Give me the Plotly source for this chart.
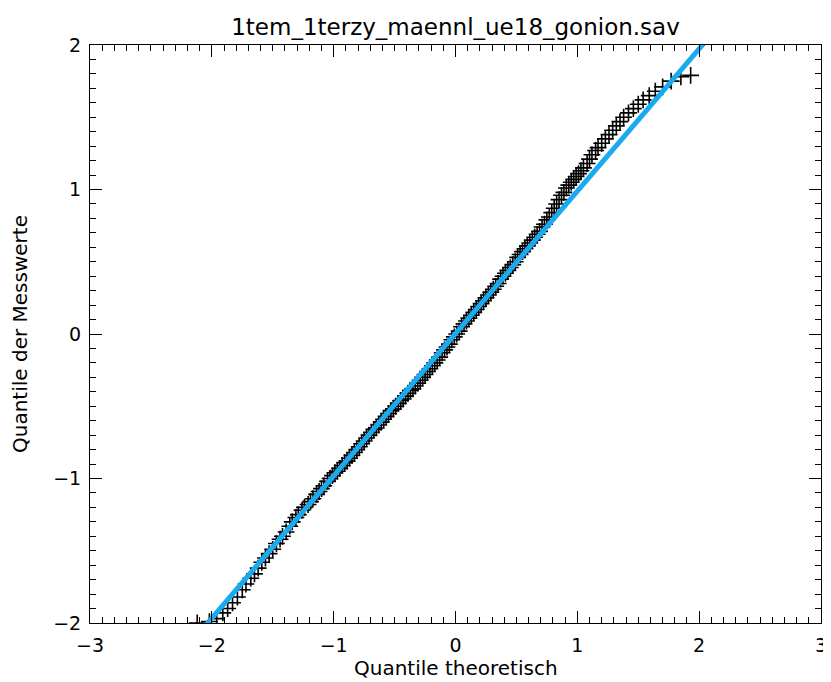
import plotly.graph_objects as go

title_text = "1tem_1terzy_maennl_ue18_gonion.sav"
x_label = "Quantile theoretisch"
y_label = "Quantile der Messwerte"

theo = [-2.12, -2.02, -1.96, -1.91, -1.87, -1.83, -1.79, -1.75, -1.72, -1.68,
        -1.65, -1.62, -1.59, -1.56, -1.53, -1.50, -1.47, -1.44, -1.42, -1.39,
        -1.36, -1.34, -1.31, -1.29, -1.26, -1.24, -1.21, -1.19, -1.17, -1.14,
        -1.12, -1.10, -1.08, -1.05, -1.03, -1.01, -0.99, -0.97, -0.95, -0.93,
        -0.91, -0.89, -0.87, -0.85, -0.83, -0.81, -0.79, -0.77, -0.75, -0.73,
        -0.71, -0.69, -0.67, -0.65, -0.63, -0.61, -0.59, -0.57, -0.55, -0.53,
        -0.51, -0.49, -0.47, -0.45, -0.43, -0.41, -0.39, -0.37, -0.35, -0.33,
        -0.31, -0.29, -0.27, -0.25, -0.23, -0.21, -0.19, -0.17, -0.15, -0.13,
        -0.11, -0.09, -0.07, -0.05, -0.03, -0.01, 0.01, 0.03, 0.05, 0.07,
        0.09, 0.11, 0.13, 0.15, 0.17, 0.19, 0.21, 0.23, 0.25, 0.27,
        0.29, 0.31, 0.33, 0.35, 0.37, 0.39, 0.41, 0.43, 0.45, 0.47,
        0.49, 0.51, 0.53, 0.55, 0.57, 0.59, 0.61, 0.63, 0.65, 0.67,
        0.69, 0.71, 0.73, 0.75, 0.77, 0.79, 0.81, 0.83, 0.85, 0.87,
        0.89, 0.91, 0.93, 0.95, 0.97, 0.99, 1.01, 1.03, 1.05, 1.08,
        1.10, 1.12, 1.15, 1.17, 1.20, 1.23, 1.26, 1.29, 1.32, 1.35,
        1.38, 1.42, 1.46, 1.50, 1.54, 1.59, 1.64, 1.70, 1.77, 1.85,
        1.93]
meas = [-2.00, -1.99, -1.97, -1.93, -1.90, -1.86, -1.82, -1.77, -1.73, -1.69,
        -1.66, -1.62, -1.58, -1.55, -1.52, -1.49, -1.45, -1.42, -1.40, -1.37,
        -1.33, -1.30, -1.27, -1.25, -1.22, -1.20, -1.18, -1.16, -1.14, -1.11,
        -1.09, -1.07, -1.05, -1.02, -1.00, -0.98, -0.96, -0.95, -0.93, -0.91,
        -0.89, -0.88, -0.86, -0.84, -0.82, -0.80, -0.78, -0.76, -0.74, -0.72,
        -0.70, -0.68, -0.66, -0.65, -0.63, -0.61, -0.59, -0.57, -0.55, -0.53,
        -0.52, -0.50, -0.48, -0.46, -0.45, -0.43, -0.41, -0.39, -0.38, -0.36,
        -0.34, -0.32, -0.30, -0.28, -0.26, -0.24, -0.22, -0.20, -0.18, -0.16,
        -0.13, -0.11, -0.09, -0.07, -0.04, -0.02, 0.00, 0.02, 0.05, 0.07,
        0.09, 0.11, 0.13, 0.15, 0.17, 0.19, 0.21, 0.23, 0.25, 0.27,
        0.29, 0.31, 0.33, 0.35, 0.38, 0.40, 0.42, 0.44, 0.46, 0.48,
        0.50, 0.53, 0.55, 0.57, 0.59, 0.61, 0.63, 0.65, 0.67, 0.69,
        0.71, 0.74, 0.76, 0.79, 0.81, 0.84, 0.87, 0.90, 0.93, 0.96,
        0.98, 1.01, 1.03, 1.05, 1.07, 1.09, 1.11, 1.13, 1.15, 1.18,
        1.21, 1.24, 1.27, 1.29, 1.32, 1.35, 1.38, 1.41, 1.44, 1.47,
        1.50, 1.53, 1.56, 1.59, 1.62, 1.65, 1.68, 1.71, 1.75, 1.78,
        1.79]

# reference line end points (data coordinates)
line_x = [-2.10, 2.10]
line_y = [-2.065, 2.072]

x_ticks = [-3, -2, -1, 0, 1, 2, 3]
y_ticks = [-2, -1, 0, 1, 2]

FONT = "DejaVu Sans"

fig = go.Figure()
fig.add_trace(go.Scatter(
    x=theo, y=meas, mode="markers",
    marker=dict(symbol="cross-thin", size=12, color="black",
                line=dict(color="black", width=1.6)),
    showlegend=False, hoverinfo="skip"))
fig.add_trace(go.Scatter(
    x=line_x, y=line_y, mode="lines",
    line=dict(color="#1aaaf0", width=5),
    showlegend=False, hoverinfo="skip"))

axis_common = dict(
    automargin=False,
    showgrid=False, zeroline=False, showline=True, linecolor="black",
    linewidth=1, mirror="allticks", ticks="inside", ticklen=12,
    tickwidth=1, tickcolor="black",
    tickfont=dict(family=FONT, size=19, color="black"),
    minor=dict(ticks="inside", ticklen=6, tickwidth=1, tickcolor="black",
               dtick=0.1, showgrid=False),
)

fig.update_xaxes(range=[-3, 3], tickvals=x_ticks, ticklabelstandoff=5,
                 **axis_common)
fig.update_yaxes(range=[-2, 2], tickvals=y_ticks, ticklabelstandoff=4,
                 **axis_common)

# the page body has an 8px margin, so the figure is 8px smaller each way
W, H = 823, 674
fig.update_layout(
    width=W, height=H,
    margin=dict(l=82, r=10, t=37, b=59, autoexpand=False),
    paper_bgcolor="white", plot_bgcolor="white",
    title=dict(text=title_text, font=dict(family=FONT, size=23, color="black"),
               x=0.5, xref="paper", y=1 - 19 / H, yref="container",
               xanchor="center", yanchor="middle"),
    annotations=[
        dict(text=x_label, xref="paper", yref="paper", x=0.5, y=0,
             yshift=-45, xanchor="center", yanchor="middle", showarrow=False,
             font=dict(family=FONT, size=20, color="black")),
        dict(text=y_label, xref="paper", yref="paper", x=0, y=0.5,
             xshift=-70, xanchor="center", yanchor="middle", showarrow=False,
             textangle=-90, font=dict(family=FONT, size=20, color="black")),
    ],
)

fig.write_html("out.html")
